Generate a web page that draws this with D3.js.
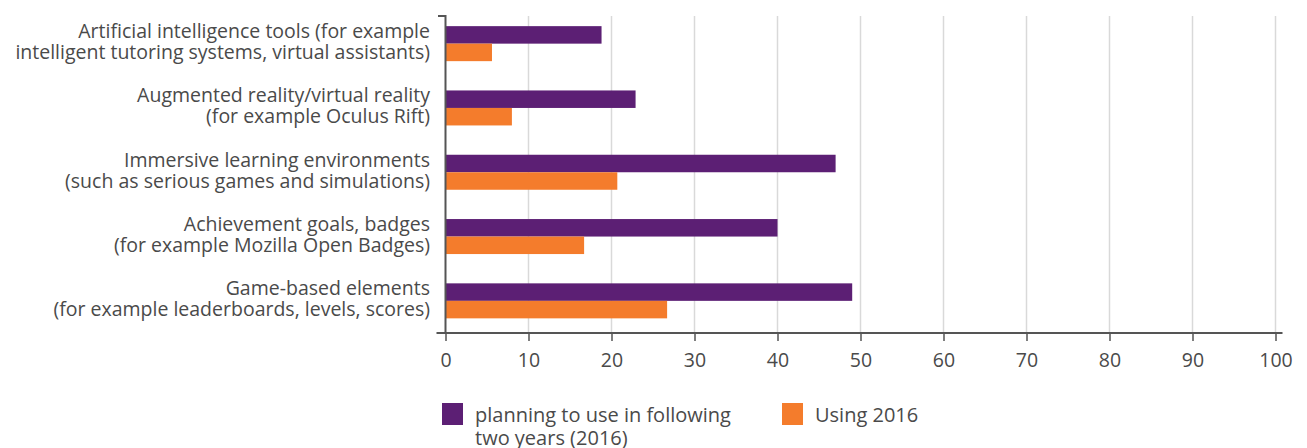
<!DOCTYPE html>
<html>
<head>
<meta charset="utf-8">
<script src="https://cdn.jsdelivr.net/npm/d3@7"></script>
<style>
  html, body { margin: 0; padding: 0; background: #fff; }
  svg { display: block; font-family: "Open Sans", "DejaVu Sans", sans-serif; }
</style>
</head>
<body>
<svg id="chart" width="1307" height="448"></svg>
<script>
// Categories (each split into two label lines)
const categories = [
  "Artificial intelligence tools",
  "Augmented reality/virtual reality",
  "Immersive learning environments",
  "Achievement goals, badges",
  "Game-based elements"
];
const categoryLines = [
  ["Artificial intelligence tools (for example", "intelligent tutoring systems, virtual assistants)"],
  ["Augmented reality/virtual reality", "(for example Oculus Rift)"],
  ["Immersive learning environments", "(such as serious games and simulations)"],
  ["Achievement goals, badges", "(for example Mozilla Open Badges)"],
  ["Game-based elements", "(for example leaderboards, levels, scores)"]
];
const planningValues = [18.8, 22.9, 47.0, 40.0, 49.0];
const usingValues = [5.6, 8.0, 20.7, 16.7, 26.7];
const legendLines = [["planning to use in following", "two years (2016)"], ["Using 2016"]];
const xTicks = [0, 10, 20, 30, 40, 50, 60, 70, 80, 90, 100];

const colors = { planning: "#5c1f74", using: "#f47c2c" };
const textColor = "#4a4a4a";

const svg = d3.select("#chart");
const plotLeft = 445.5, plotRight = 1275.5, plotTop = 11.5, plotBottom = 333;

const x = d3.scaleLinear().domain([0, 100]).range([plotLeft, plotRight]);
const y = d3.scaleBand().domain(categories).range([plotTop, plotBottom]).padding(0);
const barH = 17.5;

// Vertical gridlines
svg.append("g").selectAll("line")
  .data(xTicks.slice(1))
  .join("line")
  .attr("x1", d => x(d)).attr("x2", d => x(d))
  .attr("y1", 16).attr("y2", plotBottom)
  .attr("stroke", "#d9d9d9").attr("stroke-width", 1.5);

// Bars
const groups = svg.append("g").selectAll("g")
  .data(categories)
  .join("g")
  .attr("transform", d => `translate(0,${y(d) + y.bandwidth() / 2})`);

groups.append("rect")
  .attr("x", x(0))
  .attr("y", -barH)
  .attr("height", barH)
  .attr("width", (d, i) => x(planningValues[i]) - x(0))
  .attr("fill", colors.planning);

groups.append("rect")
  .attr("x", x(0))
  .attr("y", 0)
  .attr("height", barH)
  .attr("width", (d, i) => x(usingValues[i]) - x(0))
  .attr("fill", colors.using);

// Category labels (two lines, right-aligned)
groups.append("text")
  .attr("text-anchor", "end")
  .attr("fill", textColor)
  .attr("font-size", 19.5)
  .selectAll("tspan")
  .data((d, i) => categoryLines[i].map((t, j) => ({ t, j })))
  .join("tspan")
  .attr("x", 430)
  .attr("y", d => (d.j === 0 ? -5.7 : 15.3))
  .text(d => d.t);

// X axis
const xAxis = svg.append("g")
  .attr("transform", `translate(0,${plotBottom})`)
  .call(d3.axisBottom(x).tickValues(xTicks).tickSize(8).tickPadding(12).tickFormat(d3.format("d")));
xAxis.select(".domain").remove();
xAxis.selectAll(".tick line").attr("stroke", "#555").attr("stroke-width", 1.5);
xAxis.selectAll(".tick text")
  .attr("font-size", 19.5)
  .attr("fill", textColor)
  .attr("font-family", "Open Sans, sans-serif");
svg.append("line")
  .attr("x1", 436.5).attr("x2", 1282.5)
  .attr("y1", plotBottom).attr("y2", plotBottom)
  .attr("stroke", "#555").attr("stroke-width", 2);

// Y axis line with top tick
svg.append("path")
  .attr("d", `M438,16H${plotLeft}V${plotBottom}`)
  .attr("fill", "none")
  .attr("stroke", "#555").attr("stroke-width", 2);

// Legend
const legendItems = [
  { color: colors.planning, rectX: 442, textX: 475, lines: legendLines[0] },
  { color: colors.using, rectX: 782, textX: 815, lines: legendLines[1] }
];
const legend = svg.append("g").selectAll("g")
  .data(legendItems)
  .join("g");
legend.append("rect")
  .attr("x", d => d.rectX).attr("y", 403)
  .attr("width", 21).attr("height", 22)
  .attr("fill", d => d.color);
legend.append("text")
  .attr("fill", textColor).attr("font-size", 20)
  .selectAll("tspan")
  .data(d => d.lines.map((t, i) => ({ t, i, x: d.textX })))
  .join("tspan")
  .attr("x", d => d.x)
  .attr("y", d => 421.5 + d.i * 23.5)
  .text(d => d.t);
</script>
</body>
</html>
